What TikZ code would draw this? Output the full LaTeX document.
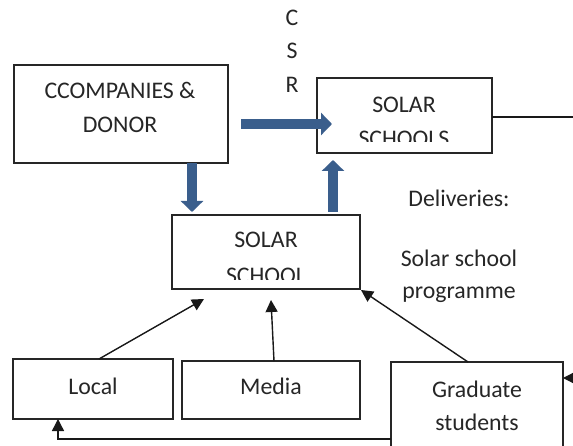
\documentclass[tikz,border=0pt]{standalone}
\usepackage{fontspec}
\setmainfont{Carlito}
\usetikzlibrary{arrows.meta}
\definecolor{arrowblue}{RGB}{58,94,140}
\begin{document}
\begin{tikzpicture}[x=1pt,y=-1pt,
  box/.style={draw=black!85, line width=1.4pt, inner sep=0pt, outer sep=0pt, fill=white},
  txt/.style={anchor=base, inner sep=0pt, text=black!85, font=\fontsize{23.8}{28}\selectfont},
  bigarrow/.style={draw=arrowblue, line width=10pt, -{Triangle[length=11pt,width=22pt]}},
  thinarrow/.style={draw=black!90, line width=1.4pt, -{Triangle[length=12pt,width=12pt]}},
  thinline/.style={draw=black!90, line width=1.4pt}]
\useasboundingbox (0,0) rectangle (573,446);
\clip (0,0) rectangle (573,446);
% boxes
\node[box, minimum width=214pt, minimum height=98pt] (comp) at (121,114) {};
\node[box, minimum width=175pt, minimum height=75pt] (ssch) at (404.5,115.5) {};
\node[box, minimum width=188pt, minimum height=74pt] (school) at (266,252) {};
\node[box, minimum width=160pt, minimum height=60pt] (local) at (93,389) {};
\node[box, minimum width=178pt, minimum height=58pt] (media) at (271,390) {};
\node[box, minimum width=172pt, minimum height=92pt] (grad) at (477,408) {};
% texts
\node[txt] (t1) at (120,99) {CCOMPANIES \&};
\node[txt] (t2) at (120,133) {DONOR};
\node[txt] (c1) at (292,26) {C};
\node[txt] (c2) at (292,59) {S};
\node[txt] (c3) at (292,93) {R};
\node[txt] (t3) at (404,113) {SOLAR};
\begin{scope}
  \clip (320,120) rectangle (490,142);
  \node[txt] (t4) at (404,147) {SCHOOLS};
\end{scope}
\node[txt] (t5) at (266,248) {SOLAR};
\begin{scope}
  \clip (175,255) rectangle (357,280);
  \node[txt] (t6) at (266,284) {SCHOOL};
\end{scope}
\node[txt] (d1) at (459,207) {Deliveries:};
\node[txt] (d2) at (459,267) {Solar school};
\node[txt] (d3) at (459,299) {programme};
\node[txt] (t7) at (93,394) {Local};
\node[txt] (t8) at (271,394) {Media};
\node[txt] (t9) at (477,397) {Graduate};
\node[txt] (t10) at (477,430) {students};
% coordinates for free ends
\coordinate (hA) at (241,124);
\coordinate (hB) at (332,124);
\coordinate (dA) at (192,163);
\coordinate (dB) at (192,212);
\coordinate (uA) at (333,212);
\coordinate (uB) at (333,160);
\coordinate (lA) at (99,359);
\coordinate (lB) at (204,299);
\coordinate (mA) at (274,361);
\coordinate (mB) at (271,300);
\coordinate (gA) at (468,362);
\coordinate (gB) at (361,290);
\coordinate (rA) at (580,117);
\coordinate (rB) at (580,378);
\coordinate (gR) at (563,378);
\coordinate (bL) at (58,439);
\coordinate (bT) at (58,419);
\coordinate (bR) at (391,439);
% blue arrows
\draw[bigarrow] (hA) -- (hB);
\draw[bigarrow] (dA) -- (dB);
\draw[bigarrow] (uA) -- (uB);
% thin connectors
\draw[thinarrow] (lA) -- (lB);
\draw[thinarrow] (mA) -- (mB);
\draw[thinarrow] (gA) -- (gB);
\draw[thinline] (ssch.east |- rA) -- (rA);
\draw[thinarrow] (rB) -- (gR);
\draw[thinarrow] (bR) -- (bL) -- (bT);
\end{tikzpicture}
\end{document}
